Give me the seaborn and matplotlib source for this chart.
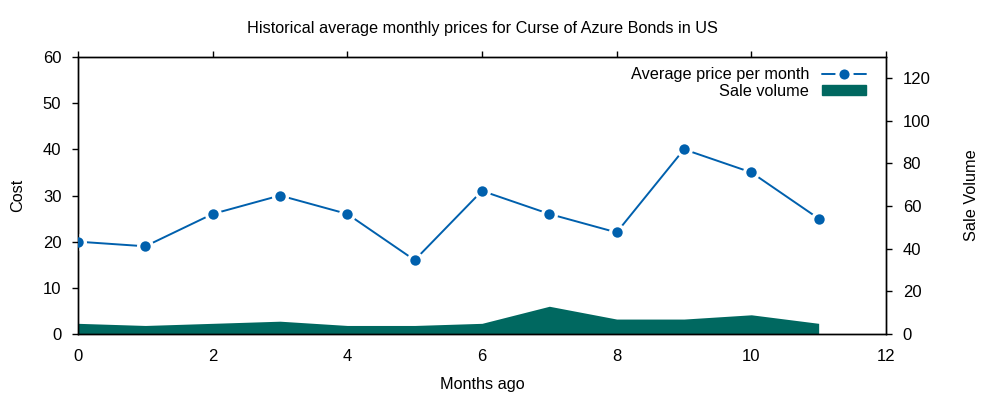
import matplotlib
matplotlib.use("Agg")
import matplotlib.pyplot as plt
import seaborn as sns
import pandas as pd
from matplotlib.lines import Line2D
from matplotlib.patches import Patch

months = [0, 1, 2, 3, 4, 5, 6, 7, 8, 9, 10, 11]
avg_price = [20, 19, 26, 30, 26, 16, 31, 26, 22, 40, 35, 25]
sale_volume = [5, 4, 5, 6, 4, 4, 5, 13, 7, 7, 9, 5]

title = "Historical average monthly prices for Curse of Azure Bonds in US"
price_color = "#0060ad"
vol_color = "#006860"

sns.set_theme(style="white")
plt.rcParams["font.family"] = ["Liberation Sans", "DejaVu Sans"]
plt.rcParams["font.size"] = 11.7
plt.rcParams["text.color"] = "black"
plt.rcParams["axes.labelcolor"] = "black"

df = pd.DataFrame({"month": months, "price": avg_price, "volume": sale_volume})

fig = plt.figure(figsize=(10, 4), dpi=100)
ax = fig.add_axes([0.078, 0.165, 0.808, 0.6925])
ax2 = ax.twinx()

ax2.fill_between(df["month"], 0, df["volume"], color=vol_color, linewidth=0, zorder=1)
ax2.set_ylim(0, 129.8)
ax2.set_yticks(range(0, 121, 20))

# line, white gap ring, then blue point
sns.lineplot(data=df, x="month", y="price", ax=ax, color=price_color,
             linewidth=1.4, zorder=2)
sns.scatterplot(data=df, x="month", y="price", ax=ax, color="white", s=150,
                linewidth=0, zorder=2.2)
sns.scatterplot(data=df, x="month", y="price", ax=ax, color=price_color, s=56,
                linewidth=0, zorder=3)
ax.set_zorder(ax2.get_zorder() + 1)
ax.patch.set_visible(False)

ax.set_xlim(0, 12)
ax.set_ylim(0, 60)
ax.set_xticks(range(0, 13, 2))
ax.set_yticks(range(0, 61, 10))

for a in (ax, ax2):
    for s in a.spines.values():
        s.set_color("black")
        s.set_linewidth(1.0)
    a.tick_params(axis="both", which="both", direction="out", length=4, width=1,
                  colors="black", labelsize=12, labelcolor="black")
ax.tick_params(axis="x", top=True, pad=7)
ax.tick_params(axis="y", left=True, right=False, pad=8)
ax2.tick_params(axis="y", right=True, pad=8)

ax.set_xlabel("Months ago", fontsize=11.7, labelpad=9, color="black")
ax.set_ylabel("Cost", fontsize=11.7, labelpad=13, color="black")
ax2.set_ylabel("Sale Volume", fontsize=11.7, labelpad=24, color="black")
ax.set_title(title, fontsize=11.7, pad=17, color="black")

handles = [
    Line2D([0], [0], color=price_color, linewidth=1.4, marker="o", markersize=10.2,
           markerfacecolor=price_color, markeredgecolor="white", markeredgewidth=2.9),
    Patch(facecolor=vol_color, edgecolor=vol_color),
]
leg = ax.legend(handles, ["Average price per month", "Sale volume"], loc="upper right",
                bbox_to_anchor=(1 - 13.5 / 808, 1 - 4 / 277), borderaxespad=0,
                frameon=False, markerfirst=False, fontsize=11.7, handlelength=2.7,
                handleheight=0.55, labelspacing=0.1, handletextpad=0.8)
for t in leg.get_texts():
    t.set_color("black")

fig.savefig("out.png", dpi=100, facecolor="white")
